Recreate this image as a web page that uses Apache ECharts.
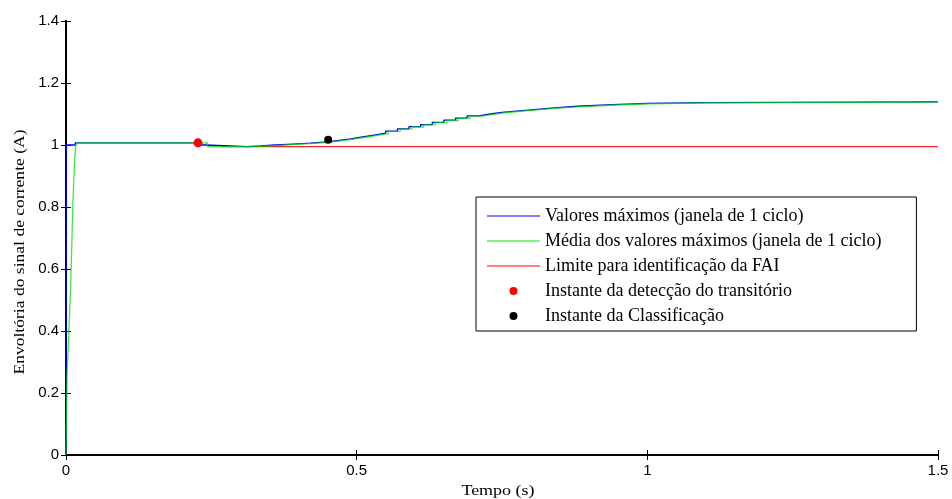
<!DOCTYPE html>
<html><head><meta charset="utf-8">
<script src="https://cdn.jsdelivr.net/npm/echarts@6/dist/echarts.min.js"></script>
<style>html,body{margin:0;padding:0;background:#fff}#c{width:952px;height:499px}</style>
</head><body><div id="c"></div>
<script>
const xTicks = [0, 0.5, 1, 1.5];
const yTicks = [0, 0.2, 0.4, 0.6, 0.8, 1, 1.2, 1.4];
const xAxisTitle = 'Tempo (s)';
const yAxisTitle = 'Envoltória do sinal de corrente (A)';
const seriesNames = [
  'Valores máximos (janela de 1 ciclo)',
  'Média dos valores máximos (janela de 1 ciclo)',
  'Limite para identificação da FAI',
  'Instante da detecção do transitório',
  'Instante da Classificação'
];
// Valores máximos [t, A]
const maxValues = [
  [0,0],[0.0005,1.0],[0.016,1.007],[0.232,1.000],[0.240,0.995],[0.312,0.997],
  [0.335,1.000],[0.36,1.003],[0.39,1.006],[0.42,1.010],[0.45,1.015],[0.47,1.020],
  [0.49,1.026],[0.51,1.032],[0.53,1.038],[0.55,1.045],[0.57,1.052],[0.59,1.059],
  [0.61,1.066],[0.63,1.073],[0.65,1.080],[0.67,1.087],[0.69,1.094],[0.71,1.100],
  [0.73,1.105],[0.75,1.110],[0.78,1.115],[0.81,1.120],[0.84,1.125],[0.88,1.130],
  [0.94,1.134],[1.0,1.137],[1.1,1.139],[1.5,1.139]
];
// Média dos valores máximos [t, A]
const meanValues = [
  [0,0],[0.0008,0.13],[0.002,0.27],[0.005,0.40],[0.008,0.54],[0.010,0.68],
  [0.012,0.82],[0.015,0.96],[0.017,1.0],[0.020,1.007],[0.228,1.007],[0.243,0.995],
  [0.315,0.996],[0.34,0.999],[0.365,1.002],[0.395,1.005],[0.425,1.009],[0.455,1.014],
  [0.475,1.019],[0.495,1.025],[0.515,1.031],[0.535,1.037],[0.555,1.044],[0.575,1.051],
  [0.595,1.058],[0.615,1.065],[0.635,1.072],[0.655,1.079],[0.675,1.086],[0.695,1.093],
  [0.715,1.099],[0.735,1.104],[0.755,1.109],[0.785,1.114],[0.815,1.119],[0.845,1.124],
  [0.885,1.129],[0.945,1.133],[1.005,1.136],[1.105,1.138],[1.5,1.138]
];
// Limite para identificação da FAI
const limitValues = [[0.268,0.995],[1.5,0.995]];
const detectionPoint = [[0.227,1.007]];
const classificationPoint = [[0.451,1.017]];

const chart = echarts.init(document.getElementById('c'), null, {renderer:'canvas'});
const axisFont = 'Liberation Sans';
const serif = 'Liberation Serif';
const axLine = {show:true, lineStyle:{color:'#000', width:2}};
const tick = {show:true, inside:true, length:5, lineStyle:{color:'#000', width:1}};
const lineIcon = 'path://M0,0 L0,0 M0,8 L0,8 M0,3.5 L53,3.5 L53,4.5 L0,4.5 Z';
chart.setOption({
  animation:false,
  backgroundColor:'#fff',
  grid:{left:66, right:14, top:21, bottom:44, containLabel:false, outerBoundsMode:'none'},
  graphic:[{
    type:'text', x:20, y:252, rotation:Math.PI/2, scaleX:1.17,
    style:{text:yAxisTitle, fill:'#000', font:'15px "Liberation Serif"', align:'center', verticalAlign:'middle'}
  },{
    type:'text', x:498, y:491, scaleX:1.2,
    style:{text:xAxisTitle, fill:'#000', font:'15px "Liberation Serif"', align:'center', verticalAlign:'middle'}
  }],
  xAxis:[{
    type:'value', min:0, max:1.5, interval:0.5,
    axisLine:axLine, axisTick:tick, splitLine:{show:false},
    axisLabel:{fontFamily:axisFont, fontSize:15, color:'#000', margin:8,
      formatter:v=>String(xTicks.find(t=>Math.abs(t-v)<1e-9) ?? v)}
  },{
    type:'value', position:'top', min:0, max:1.5, interval:0.5,
    axisLine:axLine, axisTick:tick, axisLabel:{show:false}, splitLine:{show:false}
  }],
  yAxis:[{
    type:'value', min:0, max:1.4, interval:0.2,
    axisLine:axLine, axisTick:tick, splitLine:{show:false},
    axisLabel:{fontFamily:axisFont, fontSize:15, color:'#000', margin:7,
      formatter:v=>String(yTicks.find(t=>Math.abs(t-v)<1e-9) ?? v)}
  },{
    type:'value', position:'right', min:0, max:1.4, interval:0.2,
    axisLine:axLine, axisTick:tick, axisLabel:{show:false}, splitLine:{show:false}
  }],
  legend:{
    orient:'vertical', left:476, top:197,
    padding:[10,35,6,11], itemGap:7, itemWidth:53, itemHeight:8,
    backgroundColor:'#fff', borderColor:'#000', borderWidth:1, borderRadius:0,
    textStyle:{fontFamily:serif, fontSize:18, color:'#000', lineHeight:18},
    data:[
      {name:seriesNames[0], icon:lineIcon, itemStyle:{color:'#0000ff'}},
      {name:seriesNames[1], icon:lineIcon, itemStyle:{color:'#00ee00'}},
      {name:seriesNames[2], icon:lineIcon, itemStyle:{color:'#ff0000'}},
      {name:seriesNames[3], icon:'circle', itemStyle:{color:'#ff0000'}},
      {name:seriesNames[4], icon:'circle', itemStyle:{color:'#000000'}}
    ]
  },
  series:[
    {name:seriesNames[0], type:'line', step:'end', data:maxValues, showSymbol:false, symbol:'none',
      lineStyle:{color:'#0000ff', width:1.3}, itemStyle:{color:'#0000ff'}, z:2},
    {name:seriesNames[1], type:'line', step:'end', data:meanValues, showSymbol:false, symbol:'none',
      lineStyle:{color:'#00e000', width:1.3, opacity:0.75}, itemStyle:{color:'#00ee00'}, z:3},
    {name:seriesNames[2], type:'line', data:limitValues, showSymbol:false, symbol:'none',
      lineStyle:{color:'#ff2020', width:1.3}, itemStyle:{color:'#ff0000'}, z:1},
    {name:seriesNames[3], type:'scatter', data:detectionPoint, symbol:'circle', symbolSize:9,
      itemStyle:{color:'#ff0000', opacity:1}, z:5},
    {name:seriesNames[4], type:'scatter', data:classificationPoint, symbol:'circle', symbolSize:8,
      itemStyle:{color:'#000000', opacity:1}, z:5}
  ]
});
</script></body></html>
